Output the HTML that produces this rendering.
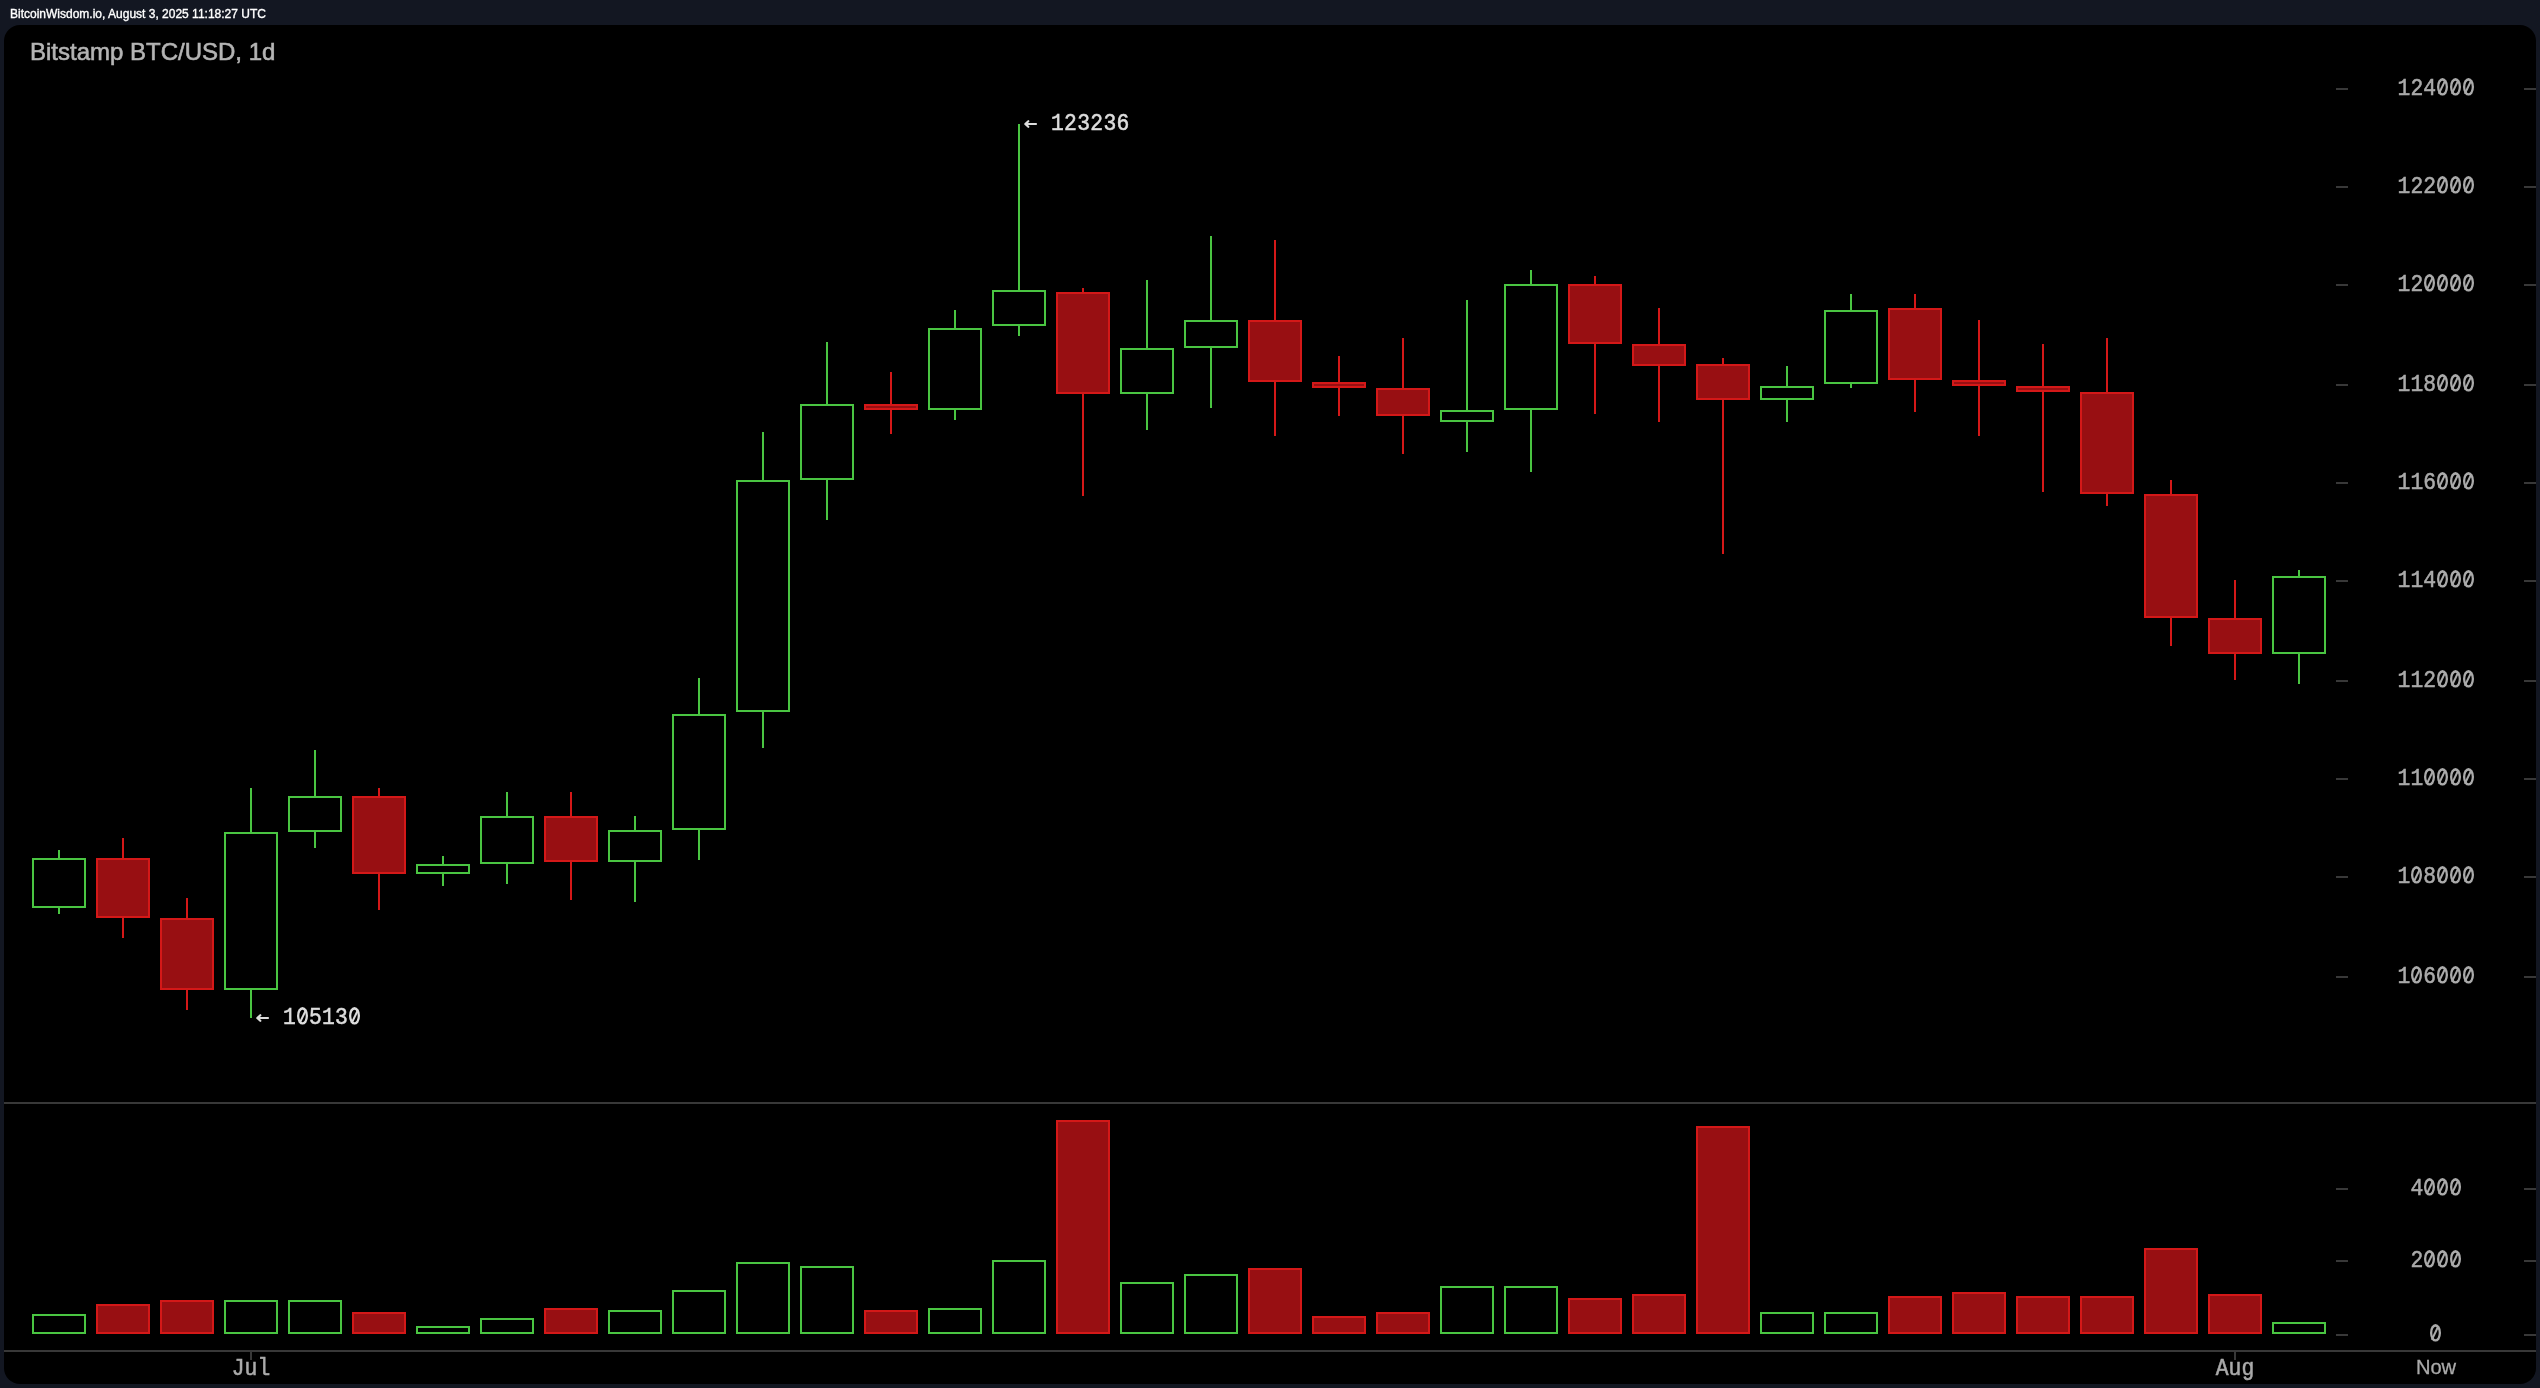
<!DOCTYPE html>
<html><head><meta charset="utf-8"><style>
html,body{margin:0;padding:0;}
body{width:2540px;height:1388px;background:#131722;position:relative;overflow:hidden;font-family:"Liberation Sans",sans-serif;}
#hdr{position:absolute;left:10px;top:6px;font-size:12px;color:#fff;white-space:nowrap;line-height:16px;will-change:transform;-webkit-text-stroke:0.35px #fff;}
#panel{position:absolute;left:4px;top:25px;width:2532px;height:1359px;background:#000;border-radius:16px;}
#title{position:absolute;left:29.6px;top:36.5px;font-size:24px;color:#b4b4b4;white-space:nowrap;line-height:30px;will-change:transform;-webkit-text-stroke:0.6px #b4b4b4;}
svg{position:absolute;left:0;top:0;}
.m{font-family:"Liberation Mono",monospace;font-size:21.33px;white-space:nowrap;position:absolute;line-height:26px;}
.yl{position:absolute;left:2336px;width:200px;height:26px;text-align:center;font-family:"Liberation Mono",monospace;font-size:21.33px;line-height:26px;color:#aaaaaa;transform:scaleY(1.1);will-change:transform;-webkit-text-stroke:0.5px currentColor;}
.xl{position:absolute;top:1354.7px;width:100px;height:26px;text-align:center;font-family:"Liberation Mono",monospace;font-size:21.33px;line-height:26px;color:#aaaaaa;transform:scaleY(1.1);will-change:transform;-webkit-text-stroke:0.5px currentColor;}
.an{letter-spacing:0.3px;position:absolute;font-family:"Liberation Mono",monospace;font-size:21.33px;line-height:26px;height:26px;color:#dcdcdc;white-space:nowrap;transform:scaleY(1.1);will-change:transform;-webkit-text-stroke:0.5px currentColor;}
.yl,.xl{--c:#aaaaaa;}
.an{--c:#dcdcdc;}
.z{display:inline-block;position:relative;width:0.6em;color:transparent;-webkit-text-stroke-color:transparent;}
.z::before{content:'';position:absolute;left:1.0px;top:4.36px;width:11.0px;height:15.6px;box-sizing:border-box;box-shadow:inset 0 0 0 2.3px var(--c);border-radius:50%;}
.z::after{content:'';position:absolute;left:5.4px;top:5.91px;width:2.2px;height:12.5px;background:var(--c);transform:rotate(28deg);}
#now{position:absolute;left:2386.25px;width:100px;text-align:center;top:1355px;font-family:"Liberation Sans",sans-serif;font-size:20.1px;line-height:24px;color:#aaaaaa;will-change:transform;-webkit-text-stroke:0.3px currentColor;}
</style></head><body>
<div id="hdr">BitcoinWisdom.io, August 3, 2025 11:18:27 UTC</div>
<div id="panel"></div>
<div id="title">Bitstamp BTC/USD, 1d</div>
<svg width="2540" height="1388" viewBox="0 0 2540 1388" shape-rendering="crispEdges">
<rect x="4" y="1102" width="2532" height="2" fill="#383838"/><rect x="4" y="1350" width="2532" height="2" fill="#383838"/><rect x="2336" y="88" width="12" height="2" fill="#383838"/><rect x="2524" y="88" width="12" height="2" fill="#383838"/><rect x="2336" y="186" width="12" height="2" fill="#383838"/><rect x="2524" y="186" width="12" height="2" fill="#383838"/><rect x="2336" y="284" width="12" height="2" fill="#383838"/><rect x="2524" y="284" width="12" height="2" fill="#383838"/><rect x="2336" y="384" width="12" height="2" fill="#383838"/><rect x="2524" y="384" width="12" height="2" fill="#383838"/><rect x="2336" y="482" width="12" height="2" fill="#383838"/><rect x="2524" y="482" width="12" height="2" fill="#383838"/><rect x="2336" y="580" width="12" height="2" fill="#383838"/><rect x="2524" y="580" width="12" height="2" fill="#383838"/><rect x="2336" y="680" width="12" height="2" fill="#383838"/><rect x="2524" y="680" width="12" height="2" fill="#383838"/><rect x="2336" y="778" width="12" height="2" fill="#383838"/><rect x="2524" y="778" width="12" height="2" fill="#383838"/><rect x="2336" y="876" width="12" height="2" fill="#383838"/><rect x="2524" y="876" width="12" height="2" fill="#383838"/><rect x="2336" y="976" width="12" height="2" fill="#383838"/><rect x="2524" y="976" width="12" height="2" fill="#383838"/><rect x="2336" y="1188" width="12" height="2" fill="#383838"/><rect x="2524" y="1188" width="12" height="2" fill="#383838"/><rect x="2336" y="1260" width="12" height="2" fill="#383838"/><rect x="2524" y="1260" width="12" height="2" fill="#383838"/><rect x="2336" y="1334" width="12" height="2" fill="#383838"/><rect x="2524" y="1334" width="12" height="2" fill="#383838"/><rect x="250" y="1352" width="2" height="8" fill="#383838"/><rect x="2234" y="1352" width="2" height="8" fill="#383838"/><rect x="58" y="850" width="2" height="64" fill="#4ac542"/><rect x="33" y="859" width="52" height="48" fill="#000" stroke="#4ac542" stroke-width="2"/><rect x="33" y="1315" width="52" height="18" fill="#000" stroke="#4ac542" stroke-width="2"/><rect x="122" y="838" width="2" height="100" fill="#d41818"/><rect x="97" y="859" width="52" height="58" fill="#980f12" stroke="#d41818" stroke-width="2"/><rect x="97" y="1305" width="52" height="28" fill="#980f12" stroke="#d41818" stroke-width="2"/><rect x="186" y="898" width="2" height="112" fill="#d41818"/><rect x="161" y="919" width="52" height="70" fill="#980f12" stroke="#d41818" stroke-width="2"/><rect x="161" y="1301" width="52" height="32" fill="#980f12" stroke="#d41818" stroke-width="2"/><rect x="250" y="788" width="2" height="230" fill="#4ac542"/><rect x="225" y="833" width="52" height="156" fill="#000" stroke="#4ac542" stroke-width="2"/><rect x="225" y="1301" width="52" height="32" fill="#000" stroke="#4ac542" stroke-width="2"/><rect x="314" y="750" width="2" height="98" fill="#4ac542"/><rect x="289" y="797" width="52" height="34" fill="#000" stroke="#4ac542" stroke-width="2"/><rect x="289" y="1301" width="52" height="32" fill="#000" stroke="#4ac542" stroke-width="2"/><rect x="378" y="788" width="2" height="122" fill="#d41818"/><rect x="353" y="797" width="52" height="76" fill="#980f12" stroke="#d41818" stroke-width="2"/><rect x="353" y="1313" width="52" height="20" fill="#980f12" stroke="#d41818" stroke-width="2"/><rect x="442" y="856" width="2" height="30" fill="#4ac542"/><rect x="417" y="865" width="52" height="8" fill="#000" stroke="#4ac542" stroke-width="2"/><rect x="417" y="1327" width="52" height="6" fill="#000" stroke="#4ac542" stroke-width="2"/><rect x="506" y="792" width="2" height="92" fill="#4ac542"/><rect x="481" y="817" width="52" height="46" fill="#000" stroke="#4ac542" stroke-width="2"/><rect x="481" y="1319" width="52" height="14" fill="#000" stroke="#4ac542" stroke-width="2"/><rect x="570" y="792" width="2" height="108" fill="#d41818"/><rect x="545" y="817" width="52" height="44" fill="#980f12" stroke="#d41818" stroke-width="2"/><rect x="545" y="1309" width="52" height="24" fill="#980f12" stroke="#d41818" stroke-width="2"/><rect x="634" y="816" width="2" height="86" fill="#4ac542"/><rect x="609" y="831" width="52" height="30" fill="#000" stroke="#4ac542" stroke-width="2"/><rect x="609" y="1311" width="52" height="22" fill="#000" stroke="#4ac542" stroke-width="2"/><rect x="698" y="678" width="2" height="182" fill="#4ac542"/><rect x="673" y="715" width="52" height="114" fill="#000" stroke="#4ac542" stroke-width="2"/><rect x="673" y="1291" width="52" height="42" fill="#000" stroke="#4ac542" stroke-width="2"/><rect x="762" y="432" width="2" height="316" fill="#4ac542"/><rect x="737" y="481" width="52" height="230" fill="#000" stroke="#4ac542" stroke-width="2"/><rect x="737" y="1263" width="52" height="70" fill="#000" stroke="#4ac542" stroke-width="2"/><rect x="826" y="342" width="2" height="178" fill="#4ac542"/><rect x="801" y="405" width="52" height="74" fill="#000" stroke="#4ac542" stroke-width="2"/><rect x="801" y="1267" width="52" height="66" fill="#000" stroke="#4ac542" stroke-width="2"/><rect x="890" y="372" width="2" height="62" fill="#d41818"/><rect x="865" y="405" width="52" height="4" fill="#980f12" stroke="#d41818" stroke-width="2"/><rect x="865" y="1311" width="52" height="22" fill="#980f12" stroke="#d41818" stroke-width="2"/><rect x="954" y="310" width="2" height="110" fill="#4ac542"/><rect x="929" y="329" width="52" height="80" fill="#000" stroke="#4ac542" stroke-width="2"/><rect x="929" y="1309" width="52" height="24" fill="#000" stroke="#4ac542" stroke-width="2"/><rect x="1018" y="124" width="2" height="212" fill="#4ac542"/><rect x="993" y="291" width="52" height="34" fill="#000" stroke="#4ac542" stroke-width="2"/><rect x="993" y="1261" width="52" height="72" fill="#000" stroke="#4ac542" stroke-width="2"/><rect x="1082" y="288" width="2" height="208" fill="#d41818"/><rect x="1057" y="293" width="52" height="100" fill="#980f12" stroke="#d41818" stroke-width="2"/><rect x="1057" y="1121" width="52" height="212" fill="#980f12" stroke="#d41818" stroke-width="2"/><rect x="1146" y="280" width="2" height="150" fill="#4ac542"/><rect x="1121" y="349" width="52" height="44" fill="#000" stroke="#4ac542" stroke-width="2"/><rect x="1121" y="1283" width="52" height="50" fill="#000" stroke="#4ac542" stroke-width="2"/><rect x="1210" y="236" width="2" height="172" fill="#4ac542"/><rect x="1185" y="321" width="52" height="26" fill="#000" stroke="#4ac542" stroke-width="2"/><rect x="1185" y="1275" width="52" height="58" fill="#000" stroke="#4ac542" stroke-width="2"/><rect x="1274" y="240" width="2" height="196" fill="#d41818"/><rect x="1249" y="321" width="52" height="60" fill="#980f12" stroke="#d41818" stroke-width="2"/><rect x="1249" y="1269" width="52" height="64" fill="#980f12" stroke="#d41818" stroke-width="2"/><rect x="1338" y="356" width="2" height="60" fill="#d41818"/><rect x="1313" y="383" width="52" height="4" fill="#980f12" stroke="#d41818" stroke-width="2"/><rect x="1313" y="1317" width="52" height="16" fill="#980f12" stroke="#d41818" stroke-width="2"/><rect x="1402" y="338" width="2" height="116" fill="#d41818"/><rect x="1377" y="389" width="52" height="26" fill="#980f12" stroke="#d41818" stroke-width="2"/><rect x="1377" y="1313" width="52" height="20" fill="#980f12" stroke="#d41818" stroke-width="2"/><rect x="1466" y="300" width="2" height="152" fill="#4ac542"/><rect x="1441" y="411" width="52" height="10" fill="#000" stroke="#4ac542" stroke-width="2"/><rect x="1441" y="1287" width="52" height="46" fill="#000" stroke="#4ac542" stroke-width="2"/><rect x="1530" y="270" width="2" height="202" fill="#4ac542"/><rect x="1505" y="285" width="52" height="124" fill="#000" stroke="#4ac542" stroke-width="2"/><rect x="1505" y="1287" width="52" height="46" fill="#000" stroke="#4ac542" stroke-width="2"/><rect x="1594" y="276" width="2" height="138" fill="#d41818"/><rect x="1569" y="285" width="52" height="58" fill="#980f12" stroke="#d41818" stroke-width="2"/><rect x="1569" y="1299" width="52" height="34" fill="#980f12" stroke="#d41818" stroke-width="2"/><rect x="1658" y="308" width="2" height="114" fill="#d41818"/><rect x="1633" y="345" width="52" height="20" fill="#980f12" stroke="#d41818" stroke-width="2"/><rect x="1633" y="1295" width="52" height="38" fill="#980f12" stroke="#d41818" stroke-width="2"/><rect x="1722" y="358" width="2" height="196" fill="#d41818"/><rect x="1697" y="365" width="52" height="34" fill="#980f12" stroke="#d41818" stroke-width="2"/><rect x="1697" y="1127" width="52" height="206" fill="#980f12" stroke="#d41818" stroke-width="2"/><rect x="1786" y="366" width="2" height="56" fill="#4ac542"/><rect x="1761" y="387" width="52" height="12" fill="#000" stroke="#4ac542" stroke-width="2"/><rect x="1761" y="1313" width="52" height="20" fill="#000" stroke="#4ac542" stroke-width="2"/><rect x="1850" y="294" width="2" height="94" fill="#4ac542"/><rect x="1825" y="311" width="52" height="72" fill="#000" stroke="#4ac542" stroke-width="2"/><rect x="1825" y="1313" width="52" height="20" fill="#000" stroke="#4ac542" stroke-width="2"/><rect x="1914" y="294" width="2" height="118" fill="#d41818"/><rect x="1889" y="309" width="52" height="70" fill="#980f12" stroke="#d41818" stroke-width="2"/><rect x="1889" y="1297" width="52" height="36" fill="#980f12" stroke="#d41818" stroke-width="2"/><rect x="1978" y="320" width="2" height="116" fill="#d41818"/><rect x="1953" y="381" width="52" height="4" fill="#980f12" stroke="#d41818" stroke-width="2"/><rect x="1953" y="1293" width="52" height="40" fill="#980f12" stroke="#d41818" stroke-width="2"/><rect x="2042" y="344" width="2" height="148" fill="#d41818"/><rect x="2017" y="387" width="52" height="4" fill="#980f12" stroke="#d41818" stroke-width="2"/><rect x="2017" y="1297" width="52" height="36" fill="#980f12" stroke="#d41818" stroke-width="2"/><rect x="2106" y="338" width="2" height="168" fill="#d41818"/><rect x="2081" y="393" width="52" height="100" fill="#980f12" stroke="#d41818" stroke-width="2"/><rect x="2081" y="1297" width="52" height="36" fill="#980f12" stroke="#d41818" stroke-width="2"/><rect x="2170" y="480" width="2" height="166" fill="#d41818"/><rect x="2145" y="495" width="52" height="122" fill="#980f12" stroke="#d41818" stroke-width="2"/><rect x="2145" y="1249" width="52" height="84" fill="#980f12" stroke="#d41818" stroke-width="2"/><rect x="2234" y="580" width="2" height="100" fill="#d41818"/><rect x="2209" y="619" width="52" height="34" fill="#980f12" stroke="#d41818" stroke-width="2"/><rect x="2209" y="1295" width="52" height="38" fill="#980f12" stroke="#d41818" stroke-width="2"/><rect x="2298" y="570" width="2" height="114" fill="#4ac542"/><rect x="2273" y="577" width="52" height="76" fill="#000" stroke="#4ac542" stroke-width="2"/><rect x="2273" y="1323" width="52" height="10" fill="#000" stroke="#4ac542" stroke-width="2"/><path d="M1036.0 124 H1025.5 M1028.3 121.2 L1025.3 124 L1028.3 126.8" stroke="#dcdcdc" stroke-width="2.2" fill="none" stroke-linecap="round" stroke-linejoin="round" shape-rendering="geometricPrecision"/><path d="M268.0 1018 H257.5 M260.3 1015.2 L257.3 1018 L260.3 1020.8" stroke="#dcdcdc" stroke-width="2.2" fill="none" stroke-linecap="round" stroke-linejoin="round" shape-rendering="geometricPrecision"/>
</svg>
<div class="yl" style="top:75.23px;margin-left:0px">124<span class="z">0</span><span class="z">0</span><span class="z">0</span></div><div class="yl" style="top:173.23px;margin-left:0px">122<span class="z">0</span><span class="z">0</span><span class="z">0</span></div><div class="yl" style="top:271.23px;margin-left:0px">12<span class="z">0</span><span class="z">0</span><span class="z">0</span><span class="z">0</span></div><div class="yl" style="top:371.23px;margin-left:0px">118<span class="z">0</span><span class="z">0</span><span class="z">0</span></div><div class="yl" style="top:469.23px;margin-left:0px">116<span class="z">0</span><span class="z">0</span><span class="z">0</span></div><div class="yl" style="top:567.23px;margin-left:0px">114<span class="z">0</span><span class="z">0</span><span class="z">0</span></div><div class="yl" style="top:667.23px;margin-left:0px">112<span class="z">0</span><span class="z">0</span><span class="z">0</span></div><div class="yl" style="top:765.23px;margin-left:0px">11<span class="z">0</span><span class="z">0</span><span class="z">0</span><span class="z">0</span></div><div class="yl" style="top:863.23px;margin-left:0px">1<span class="z">0</span>8<span class="z">0</span><span class="z">0</span><span class="z">0</span></div><div class="yl" style="top:963.23px;margin-left:0px">1<span class="z">0</span>6<span class="z">0</span><span class="z">0</span><span class="z">0</span></div><div class="yl" style="top:1175.23px;margin-left:0px">4<span class="z">0</span><span class="z">0</span><span class="z">0</span></div><div class="yl" style="top:1247.23px;margin-left:0px">2<span class="z">0</span><span class="z">0</span><span class="z">0</span></div><div class="yl" style="top:1321.23px;margin-left:-1px"><span class="z">0</span></div>
<div class="xl" style="left:201px">Jul</div>
<div class="xl" style="left:2185px">Aug</div>
<div id="now">Now</div>
<div class="an" style="left:1051px;top:109.68px">123236</div>
<div class="an" style="left:283px;top:1003.78px">1<span class="z">0</span>513<span class="z">0</span></div>
</body></html>
